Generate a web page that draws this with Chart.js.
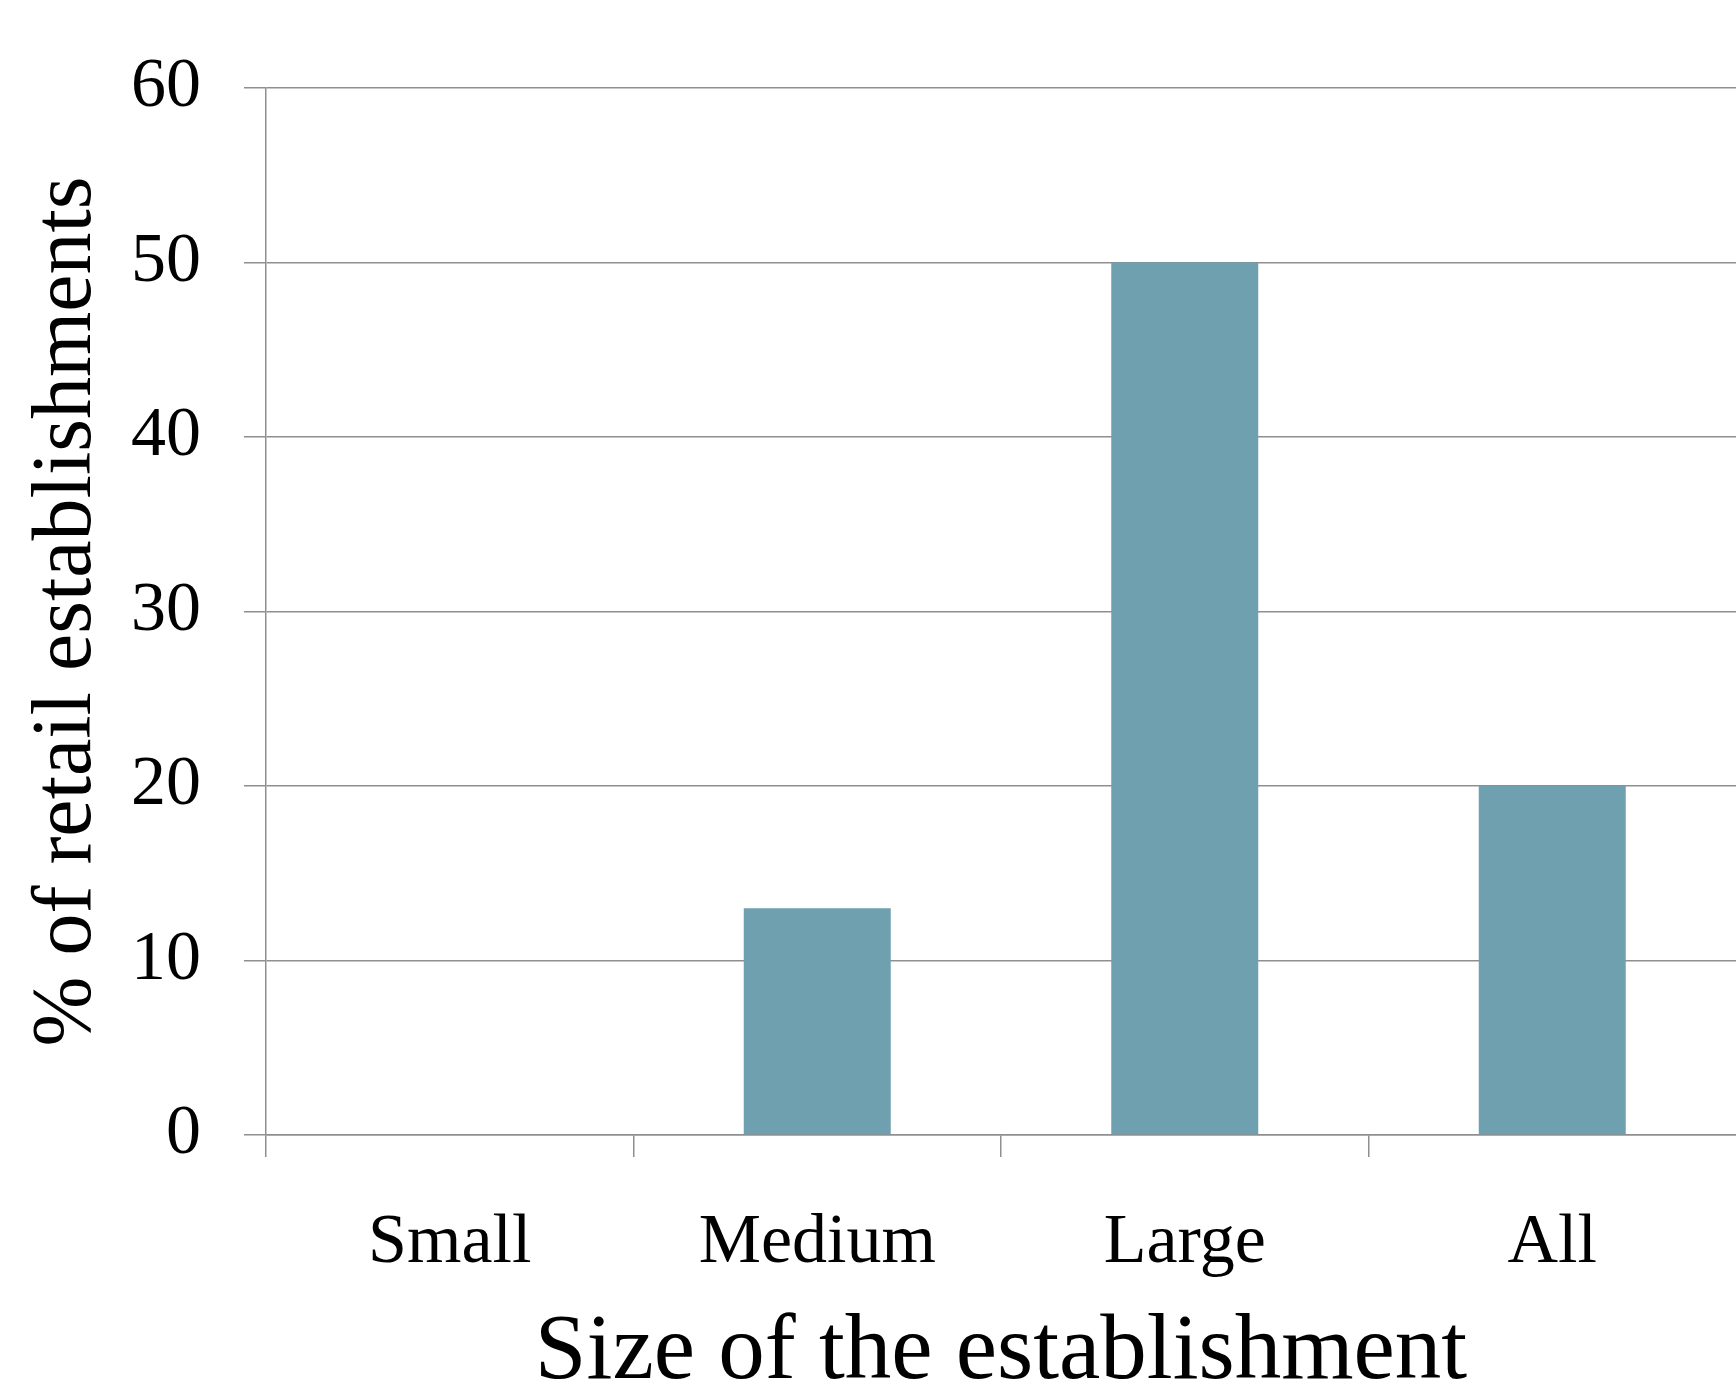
<!DOCTYPE html>
<html>
<head>
<meta charset="utf-8">
<script src="https://cdn.jsdelivr.net/npm/chart.js@4.4.1/dist/chart.umd.min.js"></script>
<style>
 body{margin:0;background:#fff}
 #back{width:1736px;height:1385px;position:relative}
</style>
</head>
<body>
<div id="back"><canvas id="myChart"></canvas></div>
<script>
 // data
 let sizes = ["Small", "Medium", "Large", "All"];
 let share = [0, 13, 50, 20];
 let yTicks = [0, 10, 20, 30, 40, 50, 60];

 let serif = "'Liberation Serif', 'Times New Roman', serif";
 let grey = "#8f8f8f";

 const ctx = document.getElementById('myChart').getContext('2d');
 const myChart = new Chart(ctx, {
     type: 'bar',
     data: {
         labels: sizes,
         datasets: [{
             label: '% of retail establishments',
             data: share,
             backgroundColor: '#6fa0af',
             borderWidth: 0,
             barPercentage: 0.4,
             categoryPercentage: 1
         }]
     },
     options: {
         responsive: true,
         maintainAspectRatio: false,
         animation: false,
         layout: { padding: { top: 88, right: 0, bottom: 0, left: 0 } },
         plugins: {
             legend: { display: false },
             tooltip: { enabled: false }
         },
         scales: {
             x: {
                 offset: true,
                 grid: {
                     offset: true,
                     drawOnChartArea: false,
                     drawTicks: true,
                     tickLength: 22,
                     // the closing tick on the far right edge is not shown in the original
                     color: c => (c.type === 'tick' ? grey : 'rgba(0,0,0,0)'),
                     lineWidth: 1.5
                 },
                 border: { display: true, color: grey, width: 1.5 },
                 ticks: {
                     color: '#000',
                     padding: 45,
                     font: { family: serif, size: 70 }
                 },
                 title: {
                     display: true,
                     text: 'Size of the establishment',
                     color: '#000',
                     padding: 0,
                     font: { family: serif, size: 93, lineHeight: 0.67 }
                 },
                 afterFit: function (scale) { scale.height = 250; }
             },
             y: {
                 min: yTicks[0],
                 max: yTicks[yTicks.length - 1],
                 grid: {
                     drawTicks: true,
                     tickLength: 22,
                     color: grey,
                     lineWidth: 1.5
                 },
                 border: { display: true, color: grey, width: 1.5 },
                 ticks: {
                     stepSize: yTicks[1] - yTicks[0],
                     color: '#000',
                     padding: 43,
                     font: { family: serif, size: 70 }
                 },
                 title: {
                     display: true,
                     text: '% of retail establishments',
                     color: '#000',
                     padding: { top: 18, bottom: 0 },
                     font: { family: serif, size: 84 }
                 },
                 afterFit: function (scale) { scale.width = 266; }
             }
         }
     }
 });
</script>
</body>
</html>
